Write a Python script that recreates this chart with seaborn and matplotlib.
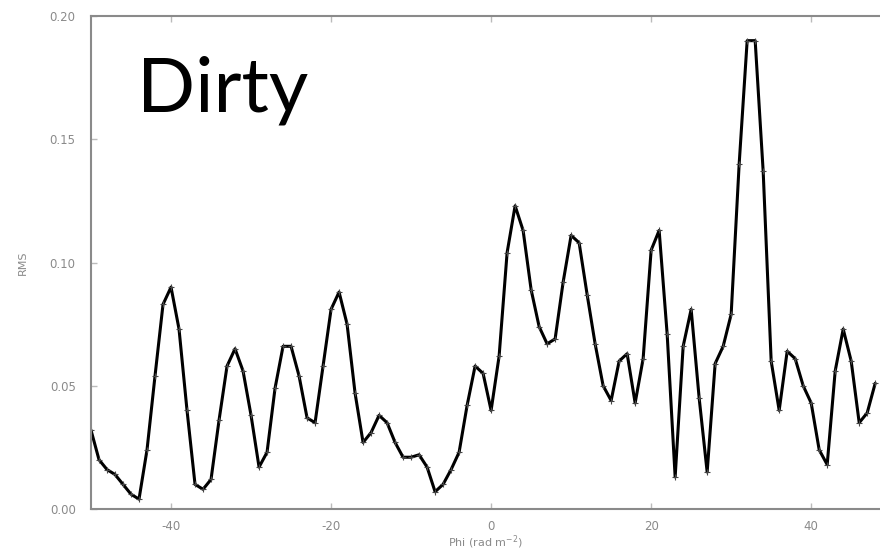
import numpy as np
import pandas as pd
import seaborn as sns
import matplotlib.pyplot as plt

# Faraday depth grid (rad m^-2) and dirty spectrum amplitude
phi = list(range(-50, 49))
rms = [0.032, 0.020, 0.016, 0.014, 0.010, 0.006, 0.004, 0.024, 0.054, 0.083,
       0.090, 0.073, 0.040, 0.010, 0.008, 0.012, 0.036, 0.058, 0.065, 0.056,
       0.038, 0.017, 0.023, 0.049, 0.066, 0.066, 0.054, 0.037, 0.035, 0.058,
       0.081, 0.088, 0.075, 0.047, 0.027, 0.031, 0.038, 0.035, 0.027, 0.021,
       0.021, 0.022, 0.017, 0.007, 0.010, 0.016, 0.023, 0.042, 0.058, 0.055,
       0.040, 0.062, 0.104, 0.123, 0.113, 0.089, 0.074, 0.067, 0.069, 0.092,
       0.111, 0.108, 0.087, 0.067, 0.050, 0.044, 0.060, 0.063, 0.043, 0.061,
       0.105, 0.113, 0.071, 0.013, 0.066, 0.081, 0.045, 0.015, 0.059, 0.066,
       0.079, 0.140, 0.190, 0.190, 0.137, 0.060, 0.040, 0.064, 0.061, 0.050,
       0.043, 0.024, 0.018, 0.056, 0.073, 0.060, 0.035, 0.039, 0.051]

spec = pd.DataFrame({"phi": phi, "rms": rms})

sns.set_style("ticks")
plt.rcParams["font.family"] = ["DejaVu Sans"]

fig = plt.figure(figsize=(8.8, 5.51), dpi=100)
ax = fig.add_axes([91 / 880, 42 / 551, 1 - 91 / 880, 493 / 551])

sns.lineplot(data=spec, x="phi", y="rms", ax=ax, color="black", linewidth=2.2,
             marker="+", markersize=5, markeredgewidth=0.8, markeredgecolor="#444444")

ax.set_xlim(-50, 48.6)
ax.set_ylim(0, 0.20)
ax.set_xticks([-40, -20, 0, 20, 40])
ax.set_xticklabels(["-40", "-20", "0", "20", "40"])
ax.set_yticks([0.0, 0.05, 0.10, 0.15, 0.20])
ax.set_yticklabels(["0.00", "0.05", "0.10", "0.15", "0.20"])

grey = "#8a8a8a"
for side in ["left", "top", "bottom"]:
    ax.spines[side].set_color(grey)
    ax.spines[side].set_linewidth(1.5)
ax.spines["right"].set_visible(False)
ax.tick_params(direction="in", length=4, width=1, color="#bbbbbb",
               labelcolor=grey, labelsize=8.5, top=True)
ax.tick_params(axis="y", pad=11)
ax.tick_params(axis="x", pad=8)

ax.set_xlabel("Phi (rad m$^{-2}$)", color=grey, fontsize=8, labelpad=0)
ax.set_ylabel("RMS", color=grey, fontsize=8, labelpad=16)

fig.text(137 / 880, 1 - 111 / 551, "Dirty", fontsize=55, family="Lato",
         color="black", va="baseline", ha="left")

fig.savefig("out.png", dpi=100)
